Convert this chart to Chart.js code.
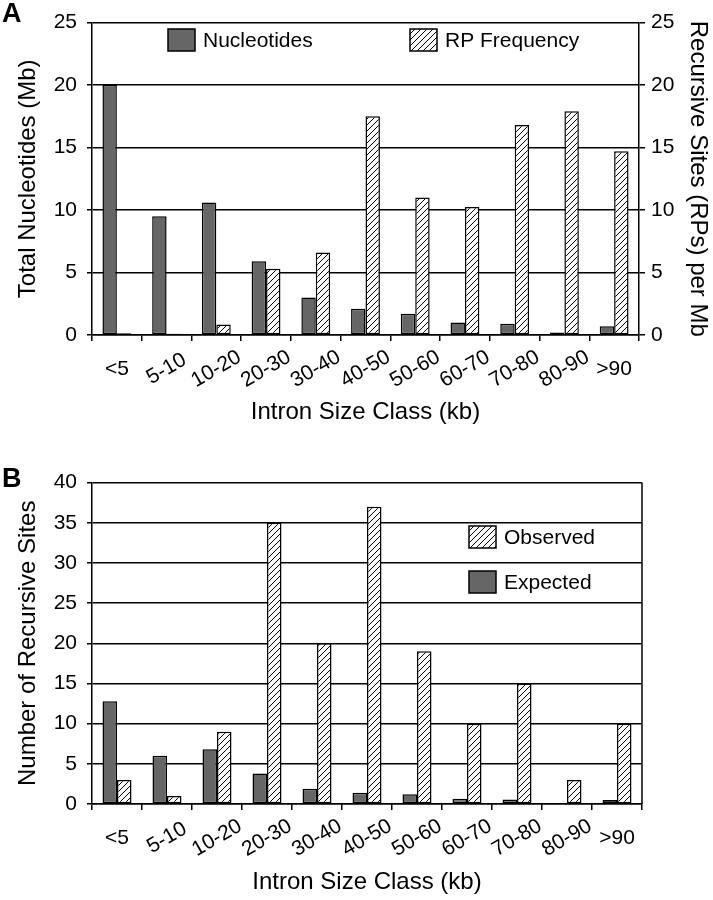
<!DOCTYPE html>
<html><head><meta charset="utf-8">
<script src="https://cdn.jsdelivr.net/npm/chart.js@4/dist/chart.umd.min.js"></script>
<style>
html,body{margin:0;padding:0;background:#fff;}
body{width:713px;height:900px;position:relative;overflow:hidden;font-family:"Liberation Sans",Arial,sans-serif;}
#wa{position:absolute;left:0;top:0;width:713px;height:430px;}
#wb{position:absolute;left:0;top:460px;width:713px;height:440px;}
.lbl{position:absolute;left:2px;font-weight:bold;font-size:27px;line-height:27px;color:#000;}
</style></head><body>
<div id="wa"><canvas id="ca" width="713" height="430"></canvas></div>
<div id="wb"><canvas id="cb" width="713" height="440"></canvas></div>
<div class="lbl" style="top:0px">A</div>
<div class="lbl" style="top:465px">B</div>
<script>
// ---- data ----
const sizeClasses = ['<5','5-10','10-20','20-30','30-40','40-50','50-60','60-70','70-80','80-90','>90'];
const nucleotidesMb = [20, 9.5, 10.6, 5.9, 3.0, 2.1, 1.7, 1.0, 0.9, 0.2, 0.7];
const rpFrequencyPerMb = [0.15, 0.1, 0.85, 5.3, 6.6, 17.5, 11.0, 10.25, 16.8, 17.9, 14.7];
const expectedSites = [12.8, 6.0, 6.8, 3.8, 1.9, 1.4, 1.2, 0.65, 0.57, 0.1, 0.5];
const observedSites = [3, 1, 9, 35, 20, 37, 19, 10, 15, 3, 10];
const seriesNamesA = ['Nucleotides', 'RP Frequency'];
const seriesNamesB = ['Observed', 'Expected'];
const axisTitles = {
  xA: 'Intron Size Class (kb)',
  yA: 'Total Nucleotides (Mb)',
  y1A: 'Recursive Sites (RPs) per Mb',
  xB: 'Intron Size Class (kb)',
  yB: 'Number of Recursive Sites'
};

// ---- styling ----
const FONT = '"Liberation Sans", Arial, Helvetica, sans-serif';
Chart.defaults.font.family = FONT;
Chart.defaults.color = '#000';
const DARK = '#666666';

function makeHatch() {
  const c = document.createElement('canvas');
  c.width = 6; c.height = 6;
  const x = c.getContext('2d');
  x.fillStyle = '#fff'; x.fillRect(0, 0, 6, 6);
  x.strokeStyle = '#000'; x.lineWidth = 1;
  x.beginPath();
  x.moveTo(0, 6); x.lineTo(6, 0);
  x.moveTo(-1, 1); x.lineTo(1, -1);
  x.moveTo(5, 7); x.lineTo(7, 5);
  x.stroke();
  return document.createElement('canvas').getContext('2d').createPattern(c, 'repeat');
}
const HATCH = makeHatch();

const insideLegend = {
  id: 'insideLegend',
  afterDraw(chart, args, opts) {
    const ctx = chart.ctx;
    (opts.items || []).forEach(it => {
      const ds = chart.data.datasets[it.dataset];
      ctx.save();
      ctx.fillStyle = ds.backgroundColor;
      ctx.fillRect(it.x, it.y, 27, 22);
      ctx.lineWidth = 1.5; ctx.strokeStyle = '#000';
      ctx.strokeRect(it.x, it.y, 27, 22);
      ctx.fillStyle = '#000';
      ctx.font = '21px ' + FONT;
      ctx.textBaseline = 'middle';
      ctx.textAlign = 'left';
      ctx.fillText(ds.label, it.x + 35, it.y + 12);
      ctx.restore();
    });
  }
};
const frameRight = {
  id: 'frameRight',
  afterDatasetsDraw(chart, args, opts) {
    if (!opts.enabled) return;
    const {ctx, chartArea: a} = chart;
    ctx.save();
    ctx.strokeStyle = '#000'; ctx.lineWidth = 1.5;
    ctx.beginPath(); ctx.moveTo(a.right, a.top); ctx.lineTo(a.right, a.bottom); ctx.stroke();
    ctx.restore();
  }
};
// category labels: centred under each category; range labels slanted, open-ended ones upright
const categoryLabels = {
  id: 'categoryLabels',
  afterDraw(chart, args, opts) {
    const ctx = chart.ctx, s = chart.scales.x;
    const labels = chart.data.labels;
    ctx.save();
    ctx.fillStyle = '#000';
    ctx.font = '21px ' + FONT;
    ctx.textAlign = 'center';
    ctx.textBaseline = 'middle';
    labels.forEach((lab, i) => {
      const x = s.getPixelForTick(i);
      ctx.save();
      ctx.translate(x, s.top + opts.offset);
      if (lab.indexOf('-') >= 0) ctx.rotate(-30 * Math.PI / 180);
      ctx.fillText(lab, 0, 0);
      ctx.restore();
    });
    ctx.restore();
  }
};

function barStyle(bg) {
  return {backgroundColor: bg, borderColor: '#000', borderWidth: 1.5, borderSkipped: false};
}
function xScale(title, h) {
  return {
    grid: {display: true, drawOnChartArea: false, offset: true, tickLength: 6, color: '#000', lineWidth: 1.5},
    border: {color: '#000', width: 1.5},
    ticks: {display: false, autoSkip: false},
    title: {display: true, text: title, font: {size: 24}, padding: {top: 0, bottom: 3}},
    afterFit(s) { s.height = h; }
  };
}
function yLeft(title, max, step) {
  return {
    position: 'left', min: 0, max: max,
    ticks: {stepSize: step, font: {size: 21}, padding: 10},
    grid: {color: '#000', lineWidth: 1.5, tickLength: 5},
    border: {color: '#000', width: 1.5},
    title: {display: true, text: title, font: {size: 24}, padding: {top: 14, bottom: 0}},
    afterFit(s) { s.width = 92; }
  };
}

new Chart(document.getElementById('ca'), {
  type: 'bar',
  data: {
    labels: sizeClasses,
    datasets: [
      Object.assign({label: seriesNamesA[0], data: nucleotidesMb, yAxisID: 'y'}, barStyle(DARK)),
      Object.assign({label: seriesNamesA[1], data: rpFrequencyPerMb, yAxisID: 'y1'}, barStyle(HATCH))
    ]
  },
  options: {
    responsive: false, animation: false, events: [],
    layout: {padding: {top: 10, left: 0, right: 0, bottom: 0}},
    datasets: {bar: {categoryPercentage: 0.58, barPercentage: 1}},
    plugins: {
      legend: {display: false}, tooltip: {enabled: false},
      insideLegend: {items: [{dataset: 0, x: 168, y: 29}, {dataset: 1, x: 410, y: 29}]},
      frameRight: {enabled: false},
      categoryLabels: {offset: 34}
    },
    scales: {
      x: xScale(axisTitles.xA, 95),
      y: yLeft(axisTitles.yA, 25, 5),
      y1: {
        position: 'right', min: 0, max: 25,
        ticks: {stepSize: 5, font: {size: 21}, padding: 6},
        grid: {drawOnChartArea: false, color: '#000', lineWidth: 1.5, tickLength: 6},
        border: {color: '#000', width: 1.5},
        title: {display: true, text: axisTitles.y1A, font: {size: 24}, padding: {top: 1, bottom: 0}},
        afterFit(s) { s.width = 74; }
      }
    }
  },
  plugins: [insideLegend, frameRight, categoryLabels]
});

new Chart(document.getElementById('cb'), {
  type: 'bar',
  data: {
    labels: sizeClasses,
    datasets: [
      Object.assign({label: seriesNamesB[1], data: expectedSites}, barStyle(DARK)),
      Object.assign({label: seriesNamesB[0], data: observedSites}, barStyle(HATCH))
    ]
  },
  options: {
    responsive: false, animation: false, events: [],
    layout: {padding: {top: 16, left: 0, right: 71, bottom: 0}},
    datasets: {bar: {categoryPercentage: 0.58, barPercentage: 1}},
    plugins: {
      legend: {display: false}, tooltip: {enabled: false},
      insideLegend: {items: [{dataset: 1, x: 469, y: 66}, {dataset: 0, x: 469, y: 111}]},
      frameRight: {enabled: true},
      categoryLabels: {offset: 34}
    },
    scales: {
      x: xScale(axisTitles.xB, 96),
      y: yLeft(axisTitles.yB, 40, 5)
    }
  },
  plugins: [insideLegend, frameRight, categoryLabels]
});
</script>
</body></html>
